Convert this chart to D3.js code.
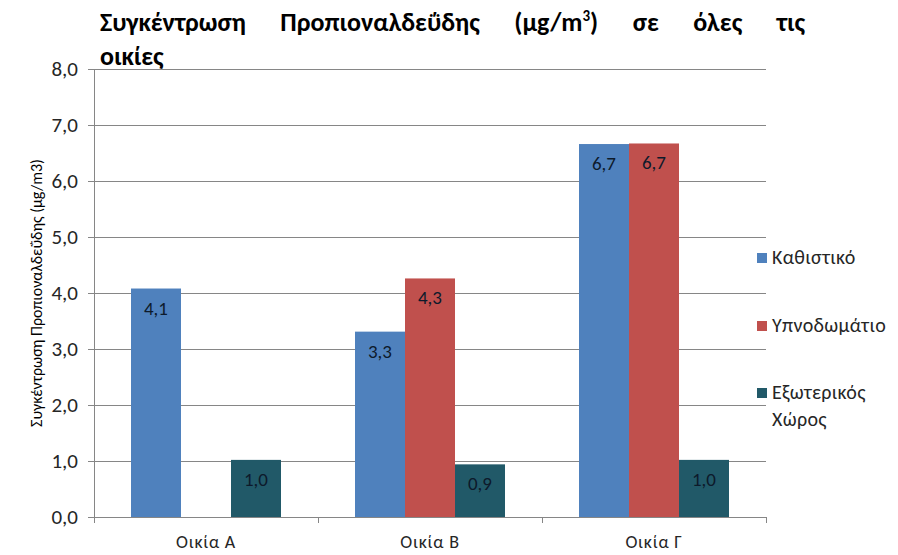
<!DOCTYPE html>
<html>
<head>
<meta charset="utf-8">
<script src="https://cdn.jsdelivr.net/npm/d3@7"></script>
<style>
  body { margin: 0; background: #fff; }
  svg { display: block; font-family: Carlito, "Liberation Sans", sans-serif; }
</style>
</head>
<body>
<div id="chart"></div>
<script>
const houses = ['Οικία Α', 'Οικία Β', 'Οικία Γ']
const series = ['Καθιστικό', 'Υπνοδωμάτιο', 'Εξωτερικός Χώρος']
const livingRoom = [4.08, 3.31, 6.66]
const bedroom = [null, 4.26, 6.67]
const outdoor = [1.02, 0.94, 1.02]
const yTicks = [0, 1, 2, 3, 4, 5, 6, 7, 8]
const colors = ['#4F81BD', '#C0504D', '#215968']

const width = 898, height = 555
const margin = { top: 69, right: 132, bottom: 38, left: 94 }

const values = [livingRoom, bedroom, outdoor]
const rows = houses.map((h, i) => ({ house: h, vals: series.map((s, j) => ({ key: s, j, v: values[j][i] })) }))

const svg = d3.select('#chart').append('svg').attr('width', width).attr('height', height)

const x0 = d3.scaleBand().domain(houses).range([margin.left, width - margin.right])
// three 50px bars centred in each 224px band
const x1 = d3.scaleBand().domain(series).range([37, x0.bandwidth() - 37]).padding(0)
const y = d3.scaleLinear().domain([0, 8]).range([height - margin.bottom, margin.top])

// grid
svg.append('g')
  .selectAll('line')
  .data(yTicks.slice(1))
  .join('line')
  .attr('x1', margin.left).attr('x2', width - margin.right)
  .attr('y1', d => y(d)).attr('y2', d => y(d))
  .attr('stroke', '#868686').attr('stroke-width', 1)
  .attr('shape-rendering', 'crispEdges')

// y axis
const yAxis = svg.append('g')
  .attr('transform', `translate(${margin.left},0)`)
  .call(d3.axisLeft(y).tickValues(yTicks).tickSize(6).tickPadding(10)
    .tickFormat(d => d3.format('.1f')(d).replace('.', ',')))
yAxis.select('.domain').attr('stroke', '#868686').attr('shape-rendering', 'crispEdges')
yAxis.selectAll('.tick line').attr('stroke', '#868686').attr('shape-rendering', 'crispEdges')
yAxis.selectAll('.tick text').attr('font-size', 21).attr('fill', '#262626').attr('font-family', 'Carlito, "Liberation Sans", sans-serif')

// x axis
const xg = svg.append('g').attr('transform', `translate(0,${y(0)})`)
xg.append('line')
  .attr('x1', margin.left).attr('x2', width - margin.right)
  .attr('stroke', '#868686').attr('shape-rendering', 'crispEdges')
xg.selectAll('line.tk')
  .data(houses.concat(['end']))
  .join('line').attr('class', 'tk')
  .attr('x1', (d, i) => margin.left + i * x0.bandwidth())
  .attr('x2', (d, i) => margin.left + i * x0.bandwidth())
  .attr('y1', 0).attr('y2', 6)
  .attr('stroke', '#868686').attr('shape-rendering', 'crispEdges')
xg.selectAll('text')
  .data(houses)
  .join('text')
  .attr('x', d => x0(d) + x0.bandwidth() / 2)
  .attr('y', 31)
  .attr('text-anchor', 'middle')
  .attr('font-size', 18)
  .attr('letter-spacing', 0.8)
  .attr('fill', '#262626')
  .text(d => d)

// bars
const groups = svg.append('g')
  .selectAll('g')
  .data(rows)
  .join('g')
  .attr('transform', d => `translate(${x0(d.house)},0)`)

const bars = groups.selectAll('g')
  .data(d => d.vals.filter(v => v.v != null))
  .join('g')

bars.append('rect')
  .attr('x', d => x1(d.key))
  .attr('width', x1.bandwidth())
  .attr('y', d => y(d.v))
  .attr('height', d => y(0) - y(d.v))
  .attr('fill', d => colors[d.j])

bars.append('text')
  .attr('x', d => x1(d.key) + x1.bandwidth() / 2)
  .attr('y', d => y(d.v) + 26)
  .attr('text-anchor', 'middle')
  .attr('font-size', 19)
  .attr('fill', '#0d1a2b')
  .text(d => d3.format('.1f')(d.v).replace('.', ','))

// y title
svg.append('text')
  .attr('transform', `translate(42,${(y(0) + y(8)) / 2}) rotate(-90)`)
  .attr('text-anchor', 'middle')
  .attr('font-size', 16)
  .attr('fill', '#000')
  .text('Συγκέντρωση Προπιοναλδεΰδης (μg/m3)')

// legend
const legendY = [258, 326, 393]
const legend = svg.append('g')
  .selectAll('g')
  .data(series)
  .join('g')
  .attr('transform', (d, i) => `translate(757,${legendY[i]})`)
legend.append('rect')
  .attr('x', 0).attr('y', -5).attr('width', 10).attr('height', 10)
  .attr('fill', (d, i) => colors[i])
legend.append('text')
  .attr('x', 15).attr('y', 6)
  .attr('font-size', 20)
  .attr('letter-spacing', 0.3)
  .attr('fill', '#262626')
  .selectAll('tspan')
  .data(d => d.split(' '))
  .join('tspan')
  .attr('x', 15)
  .attr('dy', (d, i) => i ? 27 : 0)
  .text(d => d)

// title, justified on first line
const titleWords = ['Συγκέντρωση', 'Προπιοναλδεΰδης', '(μg/m3)', 'σε', 'όλες', 'τις']
const tg = svg.append('g').attr('font-size', 26).attr('font-weight', 'bold').attr('fill', '#000')
const wordEls = titleWords.map(w => {
  const t = tg.append('text').attr('y', 31)
  if (w === '(μg/m3)') {
    t.append('tspan').text('(μg/m')
    t.append('tspan').attr('font-size', 15).attr('dy', -10).text('3')
    t.append('tspan').attr('dy', 10).text(')')
  } else t.text(w)
  return t
})
const widths = wordEls.map(t => t.node().getComputedTextLength())
const left = 100, right = 805
const gap = (right - left - d3.sum(widths)) / (titleWords.length - 1)
let cx = left
wordEls.forEach((t, i) => { t.attr('x', cx); cx += widths[i] + gap })
tg.append('text').attr('x', left).attr('y', 65).text('οικίες')
</script>
</body>
</html>
